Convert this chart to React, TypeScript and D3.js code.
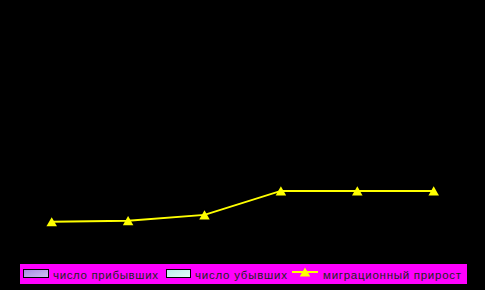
import React from "react";
import * as d3 from "d3";

const years = ["1", "2", "3", "4", "5", "6"];
const arrived: (number | null)[] = [null, null, null, null, null, null];
const departed: (number | null)[] = [null, null, null, null, null, null];
const migrationGrowth = [120, 125, 150, 254, 254, 254];
const legendLabels = ["число прибывших", "число убывших", "миграционный прирост"];

const W = 485;
const H = 290;

export default function App() {
  const x = d3.scalePoint<string>().domain(years).range([51.7, 433.7]);
  const y = d3.scaleLinear().domain([0, 1000]).range([249.5, 18.7]);
  const line = d3
    .line<number>()
    .x((_, i) => x(years[i]) as number)
    .y((d) => y(d));
  const tri = d3.symbol().type(d3.symbolTriangle).size(48);

  return (
    <svg
      width={W}
      height={H}
      style={{ position: "absolute", left: 0, top: 0, background: "#000" }}
    >
      <rect x={0} y={0} width={W} height={H} fill="#000" />
      {/* bars (no visible data) */}
      {arrived.map((v, i) =>
        v == null ? null : (
          <rect key={"a" + i} x={(x(years[i]) as number) - 10} y={y(v)} width={10} height={y(0) - y(v)} fill="#b399e6" />
        )
      )}
      {departed.map((v, i) =>
        v == null ? null : (
          <rect key={"d" + i} x={x(years[i]) as number} y={y(v)} width={10} height={y(0) - y(v)} fill="#c8f0f0" />
        )
      )}
      <path d={line(migrationGrowth) || ""} fill="none" stroke="#ffff00" strokeWidth={2} />
      {migrationGrowth.map((v, i) => (
        <path
          key={i}
          d={tri() || ""}
          transform={`translate(${x(years[i])},${y(v) + 1.5})`}
          fill="#ffff00"
        />
      ))}
      {/* legend */}
      <rect x={20} y={264} width={447} height={20} fill="#ff00ff" />
      <defs>
        <linearGradient id="g1" x1="0" x2="1" y1="0" y2="1">
          <stop offset="0" stopColor="#a58ae0" />
          <stop offset="1" stopColor="#d0c0f5" />
        </linearGradient>
        <linearGradient id="g2" x1="0" x2="1" y1="0" y2="1">
          <stop offset="0" stopColor="#b8ece8" />
          <stop offset="1" stopColor="#e6fbfb" />
        </linearGradient>
      </defs>
      <rect x={23.5} y={269.5} width={25} height={8} fill="url(#g1)" stroke="#000" strokeWidth={1} />
      <text x={53} y={279} fontFamily="Liberation Sans, Arial, sans-serif" fontSize={11.5} fill="#222" textLength={105} lengthAdjust="spacing">
        {legendLabels[0]}
      </text>
      <rect x={166.5} y={269.5} width={24} height={8} fill="url(#g2)" stroke="#000" strokeWidth={1} />
      <text x={195} y={279} fontFamily="Liberation Sans, Arial, sans-serif" fontSize={11.5} fill="#222" textLength={92} lengthAdjust="spacing">
        {legendLabels[1]}
      </text>
      <line x1={292} x2={318} y1={272} y2={272} stroke="#ffff00" strokeWidth={2} />
      <path d={tri() || ""} transform="translate(305,273.5)" fill="#ffff00" />
      <text x={323} y={279} fontFamily="Liberation Sans, Arial, sans-serif" fontSize={11.5} fill="#222" textLength={138} lengthAdjust="spacing">
        {legendLabels[2]}
      </text>
    </svg>
  );
}
